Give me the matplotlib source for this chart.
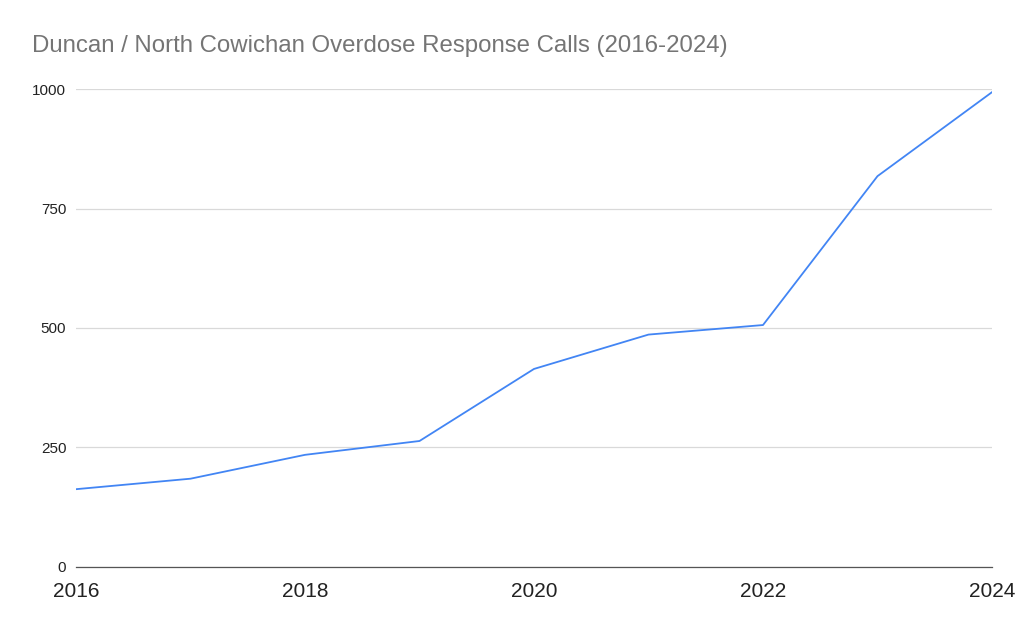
import matplotlib
matplotlib.use("Agg")
import matplotlib.pyplot as plt

years = [2016, 2017, 2018, 2019, 2020, 2021, 2022, 2023, 2024]
calls = [162, 184, 234, 263, 414, 486, 506, 818, 994]
x_ticks = [2016, 2018, 2020, 2022, 2024]
y_ticks = [0, 250, 500, 750, 1000]
title = "Duncan / North Cowichan Overdose Response Calls (2016-2024)"

plt.rcParams['font.family'] = ['Liberation Sans', 'DejaVu Sans']

fig = plt.figure(figsize=(10.24, 6.32), dpi=100)
ax = fig.add_axes([76/1024, 1 - 566.5/632, (992 - 76)/1024, (566.5 - 89.3)/632])

ax.plot(years, calls, color='#4285F4', linewidth=1.3, zorder=3)

ax.set_xlim(2016, 2024)
ax.set_ylim(0, 1000)
ax.set_xticks(x_ticks)
ax.set_xticklabels([str(t) for t in x_ticks], fontsize=15, color='#222222')
ax.set_yticks(y_ticks)
ax.set_yticklabels([str(t) for t in y_ticks], fontsize=11, color='#222222')
ax.tick_params(axis='both', length=0)
ax.tick_params(axis='y', pad=7)
ax.tick_params(axis='x', pad=11)

ax.grid(axis='y', color='#d9d9d9', linewidth=0.9)
for s in ['top', 'right', 'left']:
    ax.spines[s].set_visible(False)
ax.spines['bottom'].set_color('#555555')
ax.spines['bottom'].set_linewidth(0.9)
ax.spines['bottom'].set_zorder(2)

fig.text(32/1024, 1 - 46/632, title, fontsize=17.25, color='#757575', va='center', ha='left')

fig.savefig('out.png', dpi=100)
